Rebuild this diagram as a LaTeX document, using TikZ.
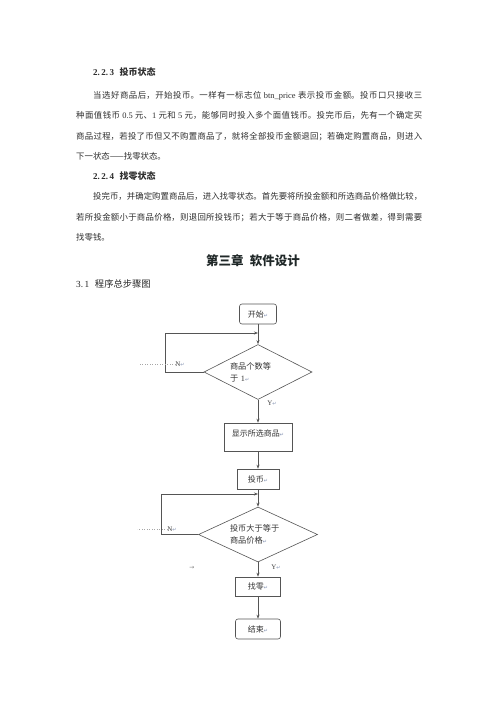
\documentclass[tikz,border=0pt]{standalone}
\usepackage{fontspec}
\usepackage{xcolor}
\setmainfont{Noto Sans CJK SC}
\newfontfamily\latfont{Liberation Serif}
\newfontfamily\symfont{DejaVu Sans}
\newfontfamily\spaced[LetterSpace=20]{Noto Sans CJK SC}
\usetikzlibrary{shapes.geometric,arrows.meta}
\XeTeXlinebreaklocale "zh"
\XeTeXlinebreakskip=0pt plus 1pt

\definecolor{bodytext}{HTML}{2E2E2E}
\definecolor{linegray}{HTML}{555555}
\definecolor{retblue}{HTML}{8090B0}
\definecolor{chapcolor}{HTML}{202828}

\newcommand{\ret}{{\symfont\fontsize{5}{5}\selectfont\color{retblue}↵}}
\newcommand{\jline}[2]{\parbox[b]{#1}{\parfillskip=0pt\relax\noindent #2}}

\begin{document}
\begin{tikzpicture}[x=1pt, y=-1pt,
    body/.style={anchor=base west, inner sep=0pt, text=bodytext, font=\fontsize{8.4}{10}\selectfont},
    head/.style={body, font=\fontsize{9}{10}\selectfont\bfseries},
    proc/.style={draw=linegray, line width=0.6pt, inner sep=0pt, text=black!80, font=\fontsize{8}{9}\selectfont},
    term/.style={proc, rounded corners=2.5pt},
    decide/.style={diamond, aspect=2, draw=linegray, line width=0.6pt, inner sep=0pt, align=left, text width=56pt, text=black!80, font=\fontsize{8.2}{12}\spaced\selectfont},
    flow/.style={draw=linegray, line width=0.6pt, -{Stealth[length=4pt, width=3pt]}},
    lbl/.style={inner sep=0pt, text=black!75, font=\fontsize{7}{8}\latfont\selectfont},
    dotline/.style={draw=gray!70, dotted, line width=0.5pt}]
    \fill[white] (0,0) rectangle (500,707);
    \useasboundingbox (0,0) rectangle (500,707);

    % 2.2.3
    \node[head] (h223) at (93,75.4) {{\latfont 2.\,2.\,3}\hspace{0.6em}投币状态};
    \node[body] (p1a) at (93,98.2) {\jline{329pt}{当选好商品后，开始投币。一样有一标志位 {\latfont btn\_price} 表示投币金额。投币口只接收三}};
    \node[body] (p1b) at (76,118.7) {\jline{346pt}{种面值钱币 {\latfont 0.5} 元、{\latfont 1} 元和 {\latfont 5} 元，能够同时投入多个面值钱币。投完币后，先有一个确定买}};
    \node[body] (p1c) at (76,139.2) {\jline{346pt}{商品过程，若投了币但又不购置商品了，就将全部投币金额退回；若确定购置商品，则进入}};
    \node[body] (p1d) at (76,159.7) {下一状态——找零状态。};

    % 2.2.4
    \node[head] (h224) at (93,179.4) {{\latfont 2.\,2.\,4}\hspace{0.6em}找零状态};
    \node[body] (p2a) at (93,199.7) {\jline{329pt}{投完币，并确定购置商品后，进入找零状态。首先要将所投金额和所选商品价格做比较，}};
    \node[body] (p2b) at (76,220.2) {\jline{346pt}{若所投金额小于商品价格，则退回所投钱币；若大于等于商品价格，则二者做差，得到需要}};
    \node[body] (p2c) at (76,240.2) {找零钱。};

    % chapter
    \node[anchor=base, inner sep=0pt, text=chapcolor, font=\fontsize{12.5}{14}\selectfont\bfseries] (chap) at (253,265.8) {第三章\hspace{0.5em}软件设计};
    \node[body, font=\fontsize{9.3}{11}\selectfont, text=black!85] (h31) at (76,287.6) {{\latfont 3.\,1}\hspace{0.6em}程序总步骤图};

    % flow chart
    \node[term, minimum width=37pt, minimum height=20pt] (start) at (258,314) {开始\ret};
    \node[decide, minimum width=108pt, minimum height=55pt] (cnt) at (258,372) {商品个数等\\于 {\latfont 1}\ret};
    \coordinate (cntin) at (258,333);
    \node[proc, minimum width=68pt, inner ysep=3pt, text height=10pt, text depth=12pt] (show) at (258,437) {显示所选商品\ret};
    \node[proc, minimum width=42pt, minimum height=20pt] (coin) at (258,479) {投币\ret};
    \node[decide, minimum width=119pt, minimum height=55pt] (pay) at (258,534.5) {投币大于等于\\商品价格\ret};
    \coordinate (payin) at (258,494);
    \node[proc, minimum width=45pt, minimum height=19pt] (change) at (258,586.5) {找零\ret};
    \node[term, minimum width=45pt, minimum height=20pt] (finish) at (258,629) {结束\ret};

    \draw[flow] (start) -- (cnt);
    \draw[flow] (cnt.west) -- ++(-38,0) |- (cntin);
    \draw[flow] (cnt) -- (show);
    \draw[flow] (show) -- (coin);
    \draw[flow] (coin) -- (pay);
    \draw[flow] (pay.west) -- ++(-37,0) |- (payin);
    \draw[flow] (pay) -- (change);
    \draw[flow] (change) -- (finish);

    % N / Y
    \node[lbl] (cntno) at (180,364) {N\ret};
    \draw[dotline] (cntno.west) -- ++(-37,0);
    \node[lbl] (cntyes) at (272,403) {Y\ret};
    \node[lbl] (payno) at (172,529) {N\ret};
    \draw[dotline] (payno.west) -- ++(-30,0);
    \node[lbl] (payyes) at (276,567) {Y\ret};
    \node[inner sep=0pt, text=gray, font=\fontsize{6}{6}\symfont\selectfont] (stray) at (192,568) {→};
\end{tikzpicture}
\end{document}
